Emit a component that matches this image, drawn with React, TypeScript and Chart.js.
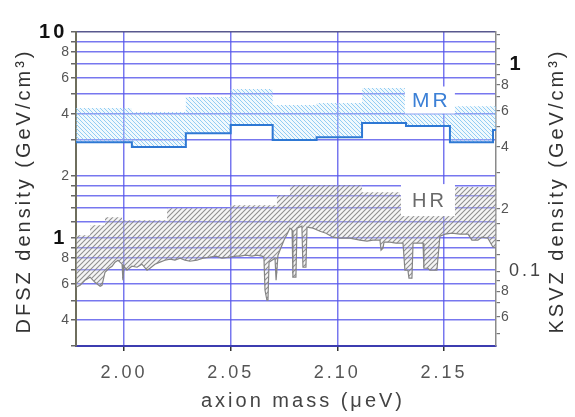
import React, { useEffect, useRef } from 'react';
import { Chart, registerables } from 'chart.js';

Chart.register(...registerables);

const FONT = '"Liberation Sans", Arial, Helvetica, sans-serif';

// ---- axes ----
const massMin = 1.9775;
const massMax = 2.1744;
const massTicks = [2.0, 2.05, 2.1, 2.15];

const dfszMin = 0.3;
const dfszMax = 10;
const dfszTicks = [10, 9, 8, 7, 6, 5, 4, 3, 2, 1.8, 1.6, 1.4, 1.2, 1, 0.9, 0.8, 0.7, 0.6, 0.5, 0.4, 0.3];
const dfszTickLabels = ['10\u200A', '', '8', '', '6', '', '4', '', '2', '', '', '', '', '1\u200A', '', '8', '', '6', '', '4', ''];

const ksvzPerDfsz = 1 / 6.92;
const ksvzTicks = [1.4, 1.2, 1, 0.9, 0.8, 0.7, 0.6, 0.5, 0.4, 0.3, 0.2, 0.17, 0.14, 0.12, 0.1, 0.09, 0.08, 0.07, 0.06, 0.05];
const ksvzTickLabels = ['', '', ' 1', '', '8', '', '6', '', '4', '', '2', '', '', '', ' 0.1', '', '8', '', '6', ''];

// ---- MR band (step edges) ----
const mrEdges = [1.9775, 2.0037, 2.029, 2.05, 2.0697, 2.0903, 2.1116, 2.1322, 2.1528, 2.173, 2.1744];
const mrLower = [2.92, 2.77, 3.23, 3.54, 2.99, 3.09, 3.62, 3.5, 2.92, 3.35];
const mrUpper = [4.28, 4.09, 4.84, 5.29, 4.42, 4.52, 5.35, 4.68, 4.37, 4.37];

// ---- HR band ----
const hrLowerMass = [
  1.9775, 1.9794, 1.9817, 1.9841, 1.9864, 1.9888, 1.9897, 1.9911, 1.993, 1.9944, 1.9958, 1.9972, 1.9981, 1.9991,
  1.9995, 2.0, 2.0014, 2.0037, 2.0061, 2.0084, 2.0108, 2.0122, 2.0145, 2.0169, 2.0192, 2.0216, 2.0239, 2.0263,
  2.0286, 2.0309, 2.0342, 2.037, 2.0403, 2.0431, 2.0459, 2.0497, 2.0525, 2.0544, 2.0572, 2.06, 2.0623, 2.0647,
  2.0656, 2.0661, 2.067, 2.0675, 2.068, 2.0694, 2.0708, 2.0713, 2.0717, 2.0722, 2.0731, 2.075, 2.0769, 2.0778,
  2.0788, 2.0792, 2.0806, 2.0811, 2.0834, 2.0839, 2.0853, 2.0858, 2.0886, 2.0919, 2.0947, 2.098, 2.1013, 2.1059,
  2.1106, 2.1139, 2.1167, 2.12, 2.1205, 2.1214, 2.1219, 2.1247, 2.1275, 2.1308, 2.1317, 2.1331, 2.1336, 2.135,
  2.1355, 2.1378, 2.1402, 2.1406, 2.1425, 2.1434, 2.1453, 2.1467, 2.1481, 2.1505, 2.1538, 2.1575, 2.1613, 2.1631,
  2.1659, 2.1678, 2.1706, 2.173, 2.1744,
];
const hrLowerDensity = [
  0.578, 0.591, 0.625, 0.647, 0.611, 0.585, 0.591, 0.684, 0.715, 0.731, 0.765, 0.782, 0.765, 0.748,
  0.625, 0.731, 0.699, 0.731, 0.723, 0.748, 0.699, 0.715, 0.748, 0.765, 0.782, 0.791, 0.782, 0.8,
  0.782, 0.773, 0.782, 0.8, 0.809, 0.818, 0.8, 0.809, 0.818, 0.818, 0.827, 0.818, 0.827, 0.818,
  0.809, 0.559, 0.5, 0.5, 0.765, 0.782, 0.8, 0.625, 0.625, 0.827, 0.874, 0.978, 1.069, 1.118,
  1.094, 0.647, 0.647, 1.118, 1.144, 0.723, 0.723, 1.131, 1.118, 1.081, 1.057, 1.011, 1.0, 1.0,
  0.978, 0.967, 0.978, 0.978, 0.874, 0.894, 0.956, 0.956, 0.946, 0.946, 0.699, 0.699, 0.64, 0.64,
  0.946, 0.946, 0.946, 0.715, 0.715, 0.699, 0.699, 0.699, 1.023, 1.046, 1.057, 1.046, 1.046, 0.978,
  0.978, 1.011, 1.0, 0.904, 0.904,
];
const hrUpperEdges = [1.9775, 1.9841, 1.9911, 1.9991, 2.0202, 2.0497, 2.0717, 2.0778, 2.1116, 2.1294, 2.1552, 2.1744];
const hrUpper = [1.034, 1.157, 1.265, 1.223, 1.398, 1.446, 1.617, 1.808, 1.672, 1.617, 1.769];

// ---- band labels ----
const bandLabels = ['MR', 'HR'];
const bandLabelMass = [2.1434, 2.1425];
const bandLabelDensity = [4.68, 1.53];

function stepPoints(edges: number[], vals: number[]) {
  const pts = vals.map((v, i) => ({ x: edges[i], y: v }));
  pts.push({ x: edges[edges.length - 1], y: vals[vals.length - 1] });
  return pts;
}

function makeHatch(ctx: CanvasRenderingContext2D, color: string, bg: string, size: number, dir: string, lw: number) {
  const c = document.createElement('canvas');
  c.width = size;
  c.height = size;
  const g = c.getContext('2d')!;
  g.fillStyle = bg;
  g.fillRect(0, 0, size, size);
  g.strokeStyle = color;
  g.lineWidth = lw;
  g.beginPath();
  if (dir === '/') {
    g.moveTo(0, size); g.lineTo(size, 0);
    g.moveTo(-1, 1); g.lineTo(1, -1);
    g.moveTo(size - 1, size + 1); g.lineTo(size + 1, size - 1);
  } else {
    g.moveTo(0, 0); g.lineTo(size, size);
    g.moveTo(-1, size - 1); g.lineTo(1, size + 1);
    g.moveTo(size - 1, -1); g.lineTo(size + 1, 1);
  }
  g.stroke();
  return ctx.createPattern(c, 'repeat')!;
}

const GRID_BLUE = 'rgba(85,85,235,0.8)';

const decorPlugin = {
  id: 'decor',
  beforeDraw(chart: any) {
    const c = chart.ctx;
    c.save();
    c.fillStyle = '#ffffff';
    c.fillRect(0, 0, chart.width, chart.height);
    c.restore();
    c.letterSpacing = '3px';
  },
  afterDatasetsDraw(chart: any) {
    const { ctx, scales } = chart;
    const styles = [
      { w: 50, h: 27, color: '#3c80d6', size: 21 },
      { w: 54, h: 32, color: '#6a6a6a', size: 20 },
    ];
    bandLabels.forEach((t, i) => {
      const px = scales.x.getPixelForValue(bandLabelMass[i]);
      const py = scales.y.getPixelForValue(bandLabelDensity[i]);
      const s = styles[i];
      ctx.save();
      ctx.fillStyle = '#ffffff';
      ctx.fillRect(px - s.w / 2, py - s.h / 2, s.w, s.h);
      ctx.fillStyle = s.color;
      ctx.font = `${s.size}px ${FONT}`;
      ctx.textAlign = 'center';
      ctx.textBaseline = 'middle';
      ctx.fillText(t, px + 1.5, py + 1);
      ctx.restore();
    });
  },
  afterDraw(chart: any) {
    const ctx = chart.ctx;
    ctx.save();
    ctx.font = `20px ${FONT}`;
    ctx.textAlign = 'center';
    ctx.textBaseline = 'middle';
    ctx.fillStyle = '#333';
    ctx.save();
    ctx.translate(24, 191);
    ctx.rotate(-Math.PI / 2);
    ctx.fillText('DFSZ density (GeV/cm³)', 0, 0);
    ctx.restore();
    ctx.save();
    ctx.translate(557, 191);
    ctx.rotate(-Math.PI / 2);
    ctx.fillText('KSVZ density (GeV/cm³)', 0, 0);
    ctx.restore();
    ctx.fillStyle = '#444';
    ctx.fillText('axion mass (μeV)', 303, 401);
    ctx.restore();
  },
};

export default function App() {
  const ref = useRef<HTMLCanvasElement>(null);

  useEffect(() => {
    const canvas = ref.current!;
    const ctx = canvas.getContext('2d')!;
    const mrPattern = makeHatch(ctx, 'rgba(115,190,240,0.75)', 'rgba(210,235,250,0.3)', 4, '\\', 1);
    const hrPattern = makeHatch(ctx, 'rgba(125,125,125,0.85)', 'rgba(225,225,225,0.35)', 5, '/', 1.1);

    const bigFont = { size: 20, weight: 'bold' as const, family: FONT };
    const smallFont = { size: 14, family: FONT };
    const isBig = (l: string) => !!l && l.endsWith('\u200A');

    const chart = new Chart(canvas, {
      type: 'line',
      data: {
        datasets: [
          {
            label: 'MR lower',
            data: stepPoints(mrEdges, mrLower),
            stepped: 'before',
            borderColor: '#2e78d4',
            borderWidth: 2,
            pointRadius: 0,
            fill: false,
          },
          {
            label: 'MR upper',
            data: stepPoints(mrEdges, mrUpper),
            stepped: 'before',
            borderColor: 'rgba(0,0,0,0)',
            borderWidth: 0,
            pointRadius: 0,
            backgroundColor: mrPattern,
            fill: { target: 0 },
          },
          {
            label: 'HR lower',
            data: hrLowerMass.map((m, i) => ({ x: m, y: hrLowerDensity[i] })),
            borderColor: '#858585',
            borderWidth: 1.2,
            pointRadius: 0,
            tension: 0,
            fill: false,
          },
          {
            label: 'HR upper',
            data: stepPoints(hrUpperEdges, hrUpper),
            stepped: 'before',
            borderColor: 'rgba(0,0,0,0)',
            borderWidth: 0,
            pointRadius: 0,
            backgroundColor: hrPattern,
            fill: { target: 2 },
          },
        ],
      },
      options: {
        responsive: false,
        animation: false,
        devicePixelRatio: 1,
        layout: { padding: { top: 32, left: 0, right: 0, bottom: 0 } },
        plugins: { legend: { display: false }, tooltip: { enabled: false } },
        scales: {
          x: {
            type: 'linear',
            min: massMin,
            max: massMax,
            afterBuildTicks: (s: any) => {
              s.ticks = massTicks.map((v) => ({ value: v }));
            },
            afterFit: (s: any) => {
              s.height = 71;
            },
            ticks: {
              autoSkip: false,
              maxRotation: 0,
              padding: 11,
              color: '#555',
              font: { size: 18, family: FONT },
              callback: (v: any) => Number(v).toFixed(2),
            },
            grid: { color: GRID_BLUE, lineWidth: 1.5, tickLength: 5, tickColor: '#333' },
            border: { color: '#3c3cb0', width: 2 },
          },
          y: {
            type: 'logarithmic',
            position: 'left',
            min: dfszMin,
            max: dfszMax,
            afterBuildTicks: (s: any) => {
              s.ticks = dfszTicks.map((v) => ({ value: v }));
            },
            afterFit: (s: any) => {
              s.width = 76;
            },
            ticks: {
              autoSkip: false,
              padding: -1,
              callback: (_v: any, i: number) => dfszTickLabels[i],
              font: (c: any) => (isBig(dfszTickLabels[c.index]) ? bigFont : smallFont),
              color: (c: any) => (isBig(dfszTickLabels[c.index]) ? '#111' : '#555'),
            },
            grid: {
              color: (c: any) => (c.tick && c.tick.value === 10 ? 'rgba(70,70,130,0.9)' : GRID_BLUE),
              lineWidth: 1.5,
              tickLength: 5,
              tickColor: '#666',
            },
            border: { color: '#6e6e5e', width: 2 },
          },
          y2: {
            type: 'logarithmic',
            position: 'right',
            min: dfszMin * ksvzPerDfsz,
            max: dfszMax * ksvzPerDfsz,
            afterBuildTicks: (s: any) => {
              s.ticks = ksvzTicks.map((v) => ({ value: v }));
            },
            afterFit: (s: any) => {
              s.width = 79;
            },
            ticks: {
              autoSkip: false,
              padding: 1,
              callback: (_v: any, i: number) => ksvzTickLabels[i],
              font: (c: any) => {
                const l = ksvzTickLabels[c.index];
                if (l === ' 1') return bigFont;
                if (l === ' 0.1') return { size: 18, family: FONT };
                return smallFont;
              },
              color: (c: any) => {
                const l = ksvzTickLabels[c.index];
                if (l === ' 1') return '#111';
                if (l === ' 0.1') return '#444';
                return '#555';
              },
            },
            grid: { drawOnChartArea: false, tickLength: 4, tickColor: '#777', lineWidth: 1.2 },
            border: { color: '#8a8a8a', width: 1.5 },
          },
        },
      } as any,
      plugins: [decorPlugin],
    });
    return () => chart.destroy();
  }, []);

  return (
    <div style={{ position: 'fixed', left: 0, top: 0, width: 575, height: 417, background: '#fff' }}>
      <canvas ref={ref} width={575} height={417} />
    </div>
  );
}
